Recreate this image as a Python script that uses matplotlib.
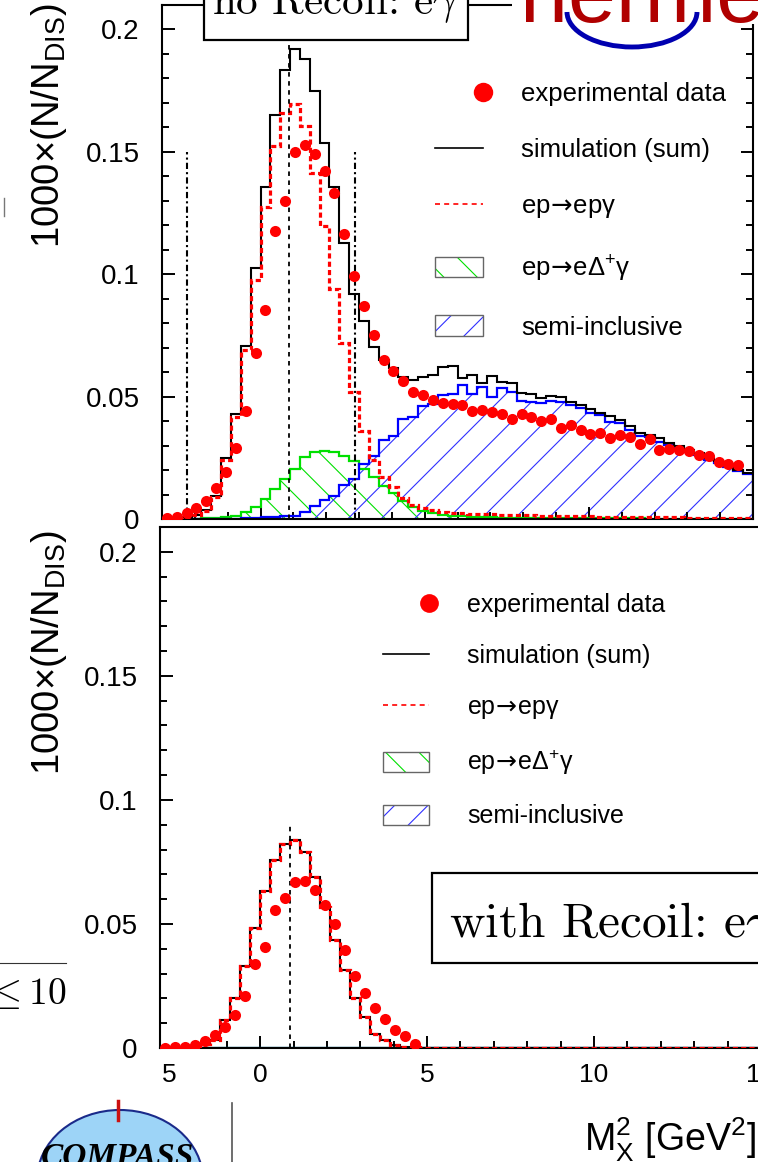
import numpy as np
import matplotlib
matplotlib.use("Agg")
import matplotlib.pyplot as plt
from matplotlib.lines import Line2D
from matplotlib.patches import Patch, Rectangle, Ellipse, Arc
from matplotlib.legend_handler import HandlerTuple, HandlerBase
from matplotlib.ticker import MultipleLocator

# ---------------- data ----------------
bin_edges = np.round(np.arange(-3.0, 15.0001, 0.3), 2)          # 61 edges, 60 bins
bin_centers = np.round((bin_edges[:-1] + bin_edges[1:]) / 2, 3)

# top panel (no recoil)
top_data = [0.0004, 0.0010, 0.0026, 0.0046, 0.0072, 0.0127, 0.0194, 0.0291, 0.0443, 0.0680,
            0.0855, 0.1176, 0.1300, 0.1498, 0.1527, 0.1490, 0.1420, 0.1330, 0.1165, 0.0993,
            0.0870, 0.0752, 0.0650, 0.0605, 0.0565, 0.0520, 0.0505, 0.0488, 0.0473, 0.0470,
            0.0466, 0.0441, 0.0445, 0.0437, 0.0430, 0.0410, 0.0430, 0.0417, 0.0400, 0.0410,
            0.0372, 0.0384, 0.0364, 0.0347, 0.0351, 0.0330, 0.0343, 0.0335, 0.0306, 0.0327,
            0.0282, 0.0286, 0.0282, 0.0278, 0.0262, 0.0257, 0.0233, 0.0225, 0.0220]
top_sum = [0.0002, 0.0004, 0.0008, 0.0016, 0.0035, 0.0095, 0.0250, 0.0429, 0.0706, 0.1024,
           0.1356, 0.1650, 0.1834, 0.1920, 0.1878, 0.1747, 0.1536, 0.1356, 0.1128, 0.0918,
           0.0810, 0.0702, 0.0650, 0.0617, 0.0581, 0.0568, 0.0581, 0.0588, 0.0622, 0.0625,
           0.0578, 0.0588, 0.0557, 0.0584, 0.0561, 0.0554, 0.0516, 0.0510, 0.0493, 0.0502,
           0.0497, 0.0480, 0.0466, 0.0449, 0.0432, 0.0419, 0.0403, 0.0378, 0.0351, 0.0344,
           0.0330, 0.0310, 0.0297, 0.0283, 0.0269, 0.0249, 0.0235, 0.0222, 0.0201, 0.0187]
top_bh = [0.0002, 0.0004, 0.0008, 0.0015, 0.0033, 0.0090, 0.0242, 0.0415, 0.0690, 0.0976,
          0.1273, 0.1522, 0.1660, 0.1695, 0.1606, 0.1412, 0.1197, 0.0941, 0.0720, 0.0517,
          0.0360, 0.0240, 0.0172, 0.0131, 0.0086, 0.0057, 0.0045, 0.0035, 0.0030, 0.0026,
          0.0024, 0.0022, 0.0020, 0.0019, 0.0018, 0.0017, 0.0016, 0.0015, 0.0014, 0.0013,
          0.0012, 0.0012, 0.0011, 0.0011, 0.0010, 0.0010, 0.0009, 0.0009, 0.0008, 0.0008,
          0.0007, 0.0007, 0.0007, 0.0006, 0.0006, 0.0006, 0.0005, 0.0005, 0.0005, 0.0004]
top_delta = [0.0000, 0.0000, 0.0001, 0.0002, 0.0003, 0.0005, 0.0008, 0.0014, 0.0027, 0.0048,
             0.0082, 0.0122, 0.0163, 0.0204, 0.0254, 0.0272, 0.0279, 0.0274, 0.0256, 0.0236,
             0.0205, 0.0170, 0.0135, 0.0105, 0.0075, 0.0050, 0.0034, 0.0025, 0.0018, 0.0014,
             0.0011, 0.0009, 0.0008, 0.0007, 0.0006, 0.0006, 0.0005, 0.0005, 0.0005, 0.0004,
             0.0004, 0.0004, 0.0004, 0.0003, 0.0003, 0.0003, 0.0003, 0.0003, 0.0003, 0.0002,
             0.0002, 0.0002, 0.0002, 0.0002, 0.0002, 0.0002, 0.0002, 0.0002, 0.0002, 0.0002]
top_semi = [0.0000, 0.0000, 0.0000, 0.0000, 0.0000, 0.0000, 0.0001, 0.0002, 0.0003, 0.0005,
            0.0007, 0.0009, 0.0011, 0.0014, 0.0028, 0.0055, 0.0076, 0.0095, 0.0138, 0.0162,
            0.0224, 0.0259, 0.0324, 0.0339, 0.0408, 0.0416, 0.0462, 0.0471, 0.0505, 0.0510,
            0.0548, 0.0510, 0.0538, 0.0500, 0.0534, 0.0520, 0.0483, 0.0479, 0.0472, 0.0481,
            0.0479, 0.0466, 0.0452, 0.0434, 0.0425, 0.0397, 0.0391, 0.0364, 0.0339, 0.0334,
            0.0316, 0.0302, 0.0289, 0.0275, 0.0261, 0.0241, 0.0227, 0.0213, 0.0197, 0.0184]

# bottom panel (with recoil)
bot_data = [0.0002, 0.0003, 0.0005, 0.0012, 0.0029, 0.0051, 0.0086, 0.0133, 0.0210, 0.0340,
            0.0406, 0.0557, 0.0604, 0.0670, 0.0672, 0.0636, 0.0575, 0.0501, 0.0396, 0.0289,
            0.0223, 0.0161, 0.0116, 0.0074, 0.0047, 0.0018]
bot_sum = [0.0002, 0.0003, 0.0005, 0.0010, 0.0017, 0.0034, 0.0114, 0.0203, 0.0331, 0.0485,
           0.0631, 0.0759, 0.0824, 0.0837, 0.0790, 0.0690, 0.0569, 0.0434, 0.0316, 0.0203,
           0.0125, 0.0058, 0.0034, 0.0011, 0.0005, 0.0003, 0.0002, 0.0002, 0.0001, 0.0001,
           0.0001, 0.0001, 0.0000, 0.0000, 0.0000, 0.0000, 0.0000, 0.0000, 0.0000, 0.0000,
           0.0000, 0.0000, 0.0000, 0.0000, 0.0000, 0.0000, 0.0000, 0.0000, 0.0000, 0.0000,
           0.0000, 0.0000, 0.0000, 0.0000, 0.0000, 0.0000, 0.0000, 0.0000, 0.0000, 0.0000]
bot_bh = bot_sum                      # ep->epγ coincides with the sum
bot_delta = [0.0] * 60
bot_semi = [0.0] * 60

m_p2 = 0.88                           # proton mass squared
excl_window = [-2.25, 2.89]           # exclusive window limits
excl_top = 0.15
mp_top = [0.20, 0.0895]

ARROW = "$\\!\\rightarrow\\!$"
legend_labels = ["experimental data", "simulation (sum)", "ep" + ARROW + "ep\u03b3",
                 "ep" + ARROW + "e\u0394$^{\\mathregular{+}}$\u03b3", "semi-inclusive"]

# ---------------- style ----------------
plt.rcParams['font.family'] = ['Liberation Sans', 'DejaVu Sans']
plt.rcParams['hatch.linewidth'] = 0.8

W, H = 758, 1162
fig = plt.figure(figsize=(W / 100, H / 100), dpi=100)


def fx(px):
    return px / W


def fy(py):
    return 1 - py / H


RED = '#ff0000'
GREEN = '#00e000'
BLUE = '#0000ff'

ax_top = fig.add_axes([fx(162), fy(519), fx(753) - fx(162), fy(5) - fy(519)])
ax_bot = fig.add_axes([fx(160), fy(1048), fx(761) - fx(160), fy(527) - fy(1048)])


def draw_panel(ax, data_y, ssum, sbh, sdelta, ssemi):
    ax.stairs(sdelta, bin_edges, fill=True, facecolor='none', edgecolor=GREEN,
              hatch='\\', lw=0, zorder=1)
    ax.stairs(ssemi, bin_edges, fill=True, facecolor='none', edgecolor='#3030ff',
              hatch='/', lw=0, zorder=1.1)
    ax.stairs(sdelta, bin_edges, color=GREEN, lw=1.6, zorder=2)
    ax.stairs(ssemi, bin_edges, color=BLUE, lw=1.6, zorder=2.1)
    ax.stairs(ssum, bin_edges, color='black', lw=1.5, zorder=3)
    ax.stairs(sbh, bin_edges, color=RED, lw=2.3, ls=(0, (1.6, 1.0)), zorder=3.5)
    ax.plot(bin_centers[:len(data_y)], data_y, 'o', color=RED, ms=8.0, mec='none', zorder=5)


draw_panel(ax_top, top_data, top_sum, top_bh, top_delta, top_semi)
draw_panel(ax_bot, bot_data, bot_sum, bot_bh, bot_delta, bot_semi)

# guide lines
for xv in excl_window:
    ax_top.plot([xv, xv], [0, excl_top], color='black', lw=1.5,
                ls=(0, (3, 1.5, 1, 1.5)), zorder=4)
ax_top.plot([m_p2, m_p2], [0, mp_top[0]], color='black', lw=1.3, ls=(0, (2.5, 2.5)), zorder=4)
ax_bot.plot([m_p2, m_p2], [0, mp_top[1]], color='black', lw=1.3, ls=(0, (2.5, 2.5)), zorder=4)

yt = [0, 0.05, 0.1, 0.15, 0.2]
ytl = ['0', '0.05', '0.1', '0.15', '0.2']
for ax in (ax_top, ax_bot):
    ax.set_xlim(-3, 15)
    ax.set_ylim(0, 0.21)
    ax.set_yticks(yt, ytl)
    ax.yaxis.set_minor_locator(MultipleLocator(0.01))
    ax.xaxis.set_minor_locator(MultipleLocator(1))
    for s in ax.spines.values():
        s.set_linewidth(1.5)
    ax.tick_params(which='both', direction='in', width=1.4, labelsize=20, top=False)
    ax.tick_params(which='major', length=9)
    ax.tick_params(which='minor', length=5)
    ax.tick_params(axis='y', pad=16)

ax_top.tick_params(which='both', right=True)
ax_top.set_xticks([0, 5, 10, 15])
ax_top.tick_params(axis='x', labelbottom=False)

ax_bot.set_xticks([-2.72, 0, 5, 10, 15], ['5', '0', '5', '10', '15'])
ax_bot.xaxis.get_major_ticks()[0].tick1line.set_visible(False)
ax_bot.tick_params(axis='x', pad=11, labelsize=19)


# legends
class RightDotHandler(HandlerBase):
    """Marker drawn at the right end of the handle box (as in the original)."""
    def create_artists(self, legend, orig_handle, xdescent, ydescent, width, height,
                       fontsize, trans):
        ln = Line2D([-xdescent + width], [-ydescent + height / 2], ls='none', marker='o',
                    color=orig_handle.get_color(), mec='none',
                    markersize=orig_handle.get_markersize(), transform=trans)
        return [ln]


def make_handles(ms):
    return [Line2D([], [], ls='none', marker='o', color=RED, mec='none', markersize=ms),
            Line2D([], [], color='black', lw=1.2),
            Line2D([], [], color=RED, lw=1.2, ls=(0, (3, 2.5))),
            (Patch(facecolor='none', edgecolor=GREEN, hatch='\\', lw=0),
             Patch(facecolor='none', edgecolor='#666666', lw=1.0)),
            (Patch(facecolor='none', edgecolor='#3030ff', hatch='/', lw=0),
             Patch(facecolor='none', edgecolor='#666666', lw=1.0))]


def add_legend(ax, ms, anchor, fs, hl, htp, ls):
    hs = make_handles(ms)
    hmap = {tuple: HandlerTuple(ndivide=1, pad=0), hs[0]: RightDotHandler()}
    ax.legend(hs, legend_labels, loc='upper left', bbox_to_anchor=anchor,
              bbox_transform=fig.transFigure, frameon=False, fontsize=fs,
              handlelength=hl, handleheight=0.85, handletextpad=htp, labelspacing=ls,
              borderpad=0, borderaxespad=0, numpoints=1, handler_map=hmap)


add_legend(ax_top, 14, (fx(435), fy(82)), 18.5, 1.85, 1.5, 1.245)
add_legend(ax_bot, 13.5, (fx(383), fy(593)), 18, 1.84, 1.52, 1.08)

# axis labels
ylab = "1000\u00d7(N/N$_{\\mathregular{DIS}}$)"
fig.text(fx(49), fy(4), ylab, rotation=90, ha='center', va='top', fontsize=27.5)
fig.text(fx(49), fy(531), ylab, rotation=90, ha='center', va='top', fontsize=27.5)
fig.text(fx(756), fy(1152),
         "M$_{\\mathregular{X}}^{\\mathregular{2}}$ [GeV$^{\\mathregular{2}}$]",
         ha='right', va='baseline', fontsize=27)

# boxes with titles
fig.add_artist(Rectangle((fx(204), fy(40)), fx(468) - fx(204), fy(-20) - fy(40),
                         transform=fig.transFigure, facecolor='white', edgecolor='black',
                         lw=1.6, zorder=6))
fig.text(fx(335), fy(14), "no Recoil: e$\\gamma$", family='cmr10', math_fontfamily='cm',
         fontsize=31, ha='center', va='baseline', zorder=7)
fig.add_artist(Rectangle((fx(432), fy(963)), fx(820) - fx(432), fy(873) - fy(963),
                         transform=fig.transFigure, facecolor='white', edgecolor='black',
                         lw=1.6, zorder=6))
fig.text(fx(449), fy(937), "with Recoil: e$\\gamma$", family='cmr10', math_fontfamily='cm',
         fontsize=35.5, ha='left', va='baseline', zorder=7)

# hermes logo (partial)
fig.add_artist(Rectangle((fx(512), fy(24)), fx(760) - fx(512), fy(-5) - fy(24),
                         transform=fig.transFigure, facecolor='white', edgecolor='none',
                         zorder=6))
fig.text(fx(520), fy(22), "hermes", color='#b00000', fontsize=62, ha='left',
         va='baseline', zorder=7)
fig.add_artist(Arc((fx(632), fy(12)), fx(130), 70 / H, theta1=180, theta2=360,
                   transform=fig.transFigure, color='#0000b0', lw=3.5, zorder=8))

# slide leftovers
fig.add_artist(Line2D([fx(0), fx(66)], [fy(963), fy(963)], color='#333333', lw=0.8))
fig.text(fx(66), fy(1004), r"$\leq 10$", math_fontfamily='cm', fontsize=27,
         ha='right', va='baseline')
fig.add_artist(Line2D([fx(4), fx(4)], [fy(198), fy(216)], color='#777777', lw=1.0))
fig.add_artist(Line2D([fx(232), fx(232)], [fy(1103), fy(1162)], color='#555555', lw=1.2))
fig.add_artist(Ellipse((fx(120), fy(1180)), fx(166), 140 / H, transform=fig.transFigure,
                       facecolor='#9dd4f7', edgecolor='#1a2a8a', lw=1.5))
fig.add_artist(Line2D([fx(118), fx(118)], [fy(1101), fy(1120)], color='#cc1010', lw=2.5))
fig.text(fx(118), fy(1166), "COMPASS", family='Liberation Serif', style='italic',
         weight='bold', fontsize=24, ha='center', va='baseline')

fig.savefig("out.png", dpi=100)
